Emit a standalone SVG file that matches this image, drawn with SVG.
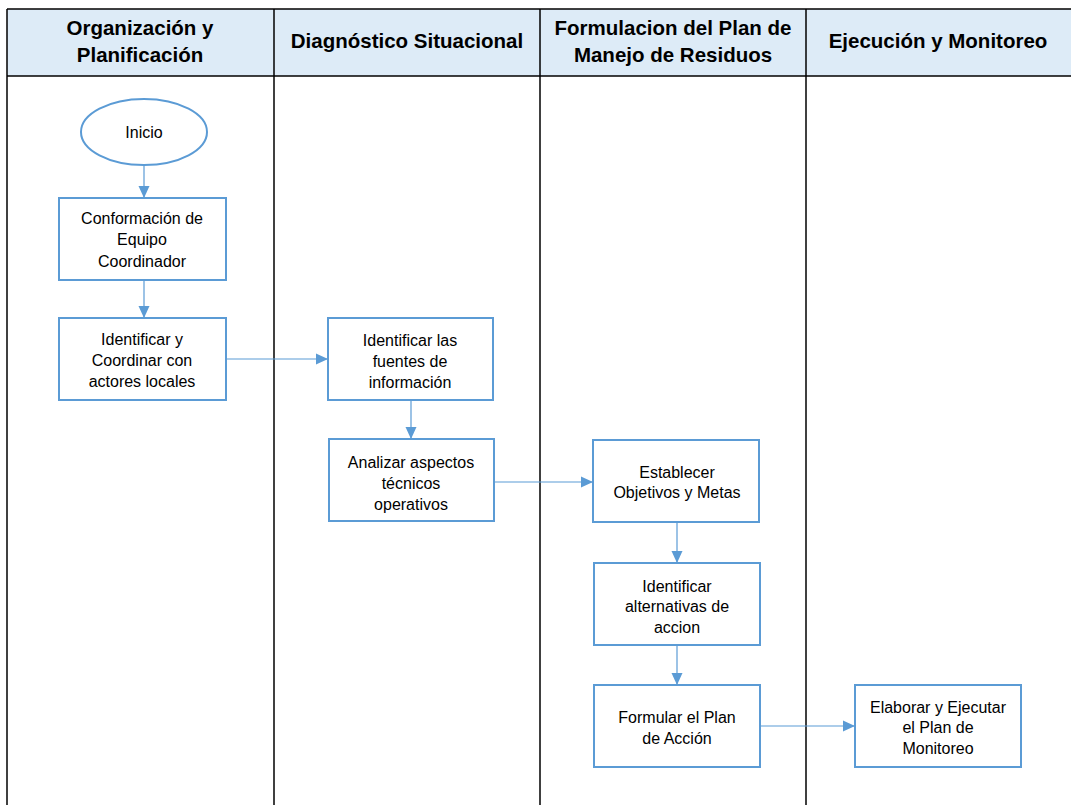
<svg xmlns="http://www.w3.org/2000/svg" width="1071" height="805" viewBox="0 0 1071 805">
<style>
.hdr{font-family:"Liberation Sans",Arial,sans-serif;font-weight:bold;font-size:20.5px;fill:#000;text-anchor:middle;dominant-baseline:central}
.t{font-family:"Liberation Sans",Arial,sans-serif;font-size:16px;fill:#000;text-anchor:middle;dominant-baseline:central}
.box{fill:#fff;stroke:#5B9BD5;stroke-width:2}
.lane{stroke:#000;stroke-width:1.5;fill:none}
.c{stroke:#5B9BD5;stroke-width:1.2;fill:none;marker-end:url(#ah)}
</style>
<defs>
<marker id="ah" viewBox="0 0 12 12" refX="12" refY="6" markerWidth="12" markerHeight="12" markerUnits="userSpaceOnUse" orient="auto">
<path d="M0,0.5 L12,6 L0,11.5 z" fill="#5B9BD5"/>
</marker>
</defs>
<rect width="1071" height="805" fill="#fff"/>
<g id="lanes">
<rect x="7" y="9" width="1070" height="67" fill="#DDEBF7"/>
<line class="lane" x1="7" y1="9" x2="1071" y2="9"/>
<line class="lane" x1="7" y1="76" x2="1071" y2="76"/>
<line class="lane" x1="7" y1="9" x2="7" y2="805"/>
<line class="lane" x1="274" y1="9" x2="274" y2="805"/>
<line class="lane" x1="540" y1="9" x2="540" y2="805"/>
<line class="lane" x1="806" y1="9" x2="806" y2="805"/>
<text class="hdr" x="140" y="27">Organización y</text>
<text class="hdr" x="140" y="54">Planificación</text>
<text class="hdr" x="407" y="40">Diagnóstico Situacional</text>
<text class="hdr" x="673" y="27">Formulacion del Plan de</text>
<text class="hdr" x="673" y="54">Manejo de Residuos</text>
<text class="hdr" x="938" y="40">Ejecución y Monitoreo</text>
</g>
<g id="connectors">
<line class="c" x1="144" y1="166" x2="144" y2="198"/>
<line class="c" x1="144" y1="280" x2="144" y2="318"/>
<line class="c" x1="226" y1="359" x2="328" y2="359"/>
<line class="c" x1="411" y1="400" x2="411" y2="439"/>
<line class="c" x1="494" y1="482" x2="593" y2="482"/>
<line class="c" x1="677" y1="522" x2="677" y2="563"/>
<line class="c" x1="677" y1="645" x2="677" y2="685"/>
<line class="c" x1="760" y1="726" x2="855" y2="726"/>
</g>
<g id="n_inicio">
<ellipse class="box" cx="144" cy="132" rx="63" ry="33"/>
<text class="t" x="144" y="132">Inicio</text>
</g>
<g id="n_conformacion">
<rect class="box" x="59" y="198" width="167" height="82"/>
<text class="t" x="142" y="218">Conformación de</text>
<text class="t" x="142" y="239">Equipo</text>
<text class="t" x="142" y="261">Coordinador</text>
</g>
<g id="n_identificar_coord">
<rect class="box" x="59" y="318" width="167" height="82"/>
<text class="t" x="142" y="339">Identificar y</text>
<text class="t" x="142" y="360">Coordinar con</text>
<text class="t" x="142" y="381">actores locales</text>
</g>
<g id="n_fuentes">
<rect class="box" x="328" y="318" width="165" height="82"/>
<text class="t" x="410" y="340">Identificar las</text>
<text class="t" x="410" y="361">fuentes de</text>
<text class="t" x="410" y="382">información</text>
</g>
<g id="n_analizar">
<rect class="box" x="329" y="439" width="165" height="82"/>
<text class="t" x="411" y="462">Analizar aspectos</text>
<text class="t" x="411" y="483">técnicos</text>
<text class="t" x="411" y="504">operativos</text>
</g>
<g id="n_objetivos">
<rect class="box" x="593" y="440" width="166" height="82"/>
<text class="t" x="677" y="472">Establecer</text>
<text class="t" x="677" y="492">Objetivos y Metas</text>
</g>
<g id="n_alternativas">
<rect class="box" x="594" y="563" width="166" height="82"/>
<text class="t" x="677" y="586">Identificar</text>
<text class="t" x="677" y="606">alternativas de</text>
<text class="t" x="677" y="627">accion</text>
</g>
<g id="n_plan_accion">
<rect class="box" x="594" y="685" width="166" height="82"/>
<text class="t" x="677" y="717">Formular el Plan</text>
<text class="t" x="677" y="738">de Acción</text>
</g>
<g id="n_monitoreo">
<rect class="box" x="855" y="685" width="166" height="82"/>
<text class="t" x="938" y="707">Elaborar y Ejecutar</text>
<text class="t" x="938" y="727">el Plan de</text>
<text class="t" x="938" y="748">Monitoreo</text>
</g>
</svg>
